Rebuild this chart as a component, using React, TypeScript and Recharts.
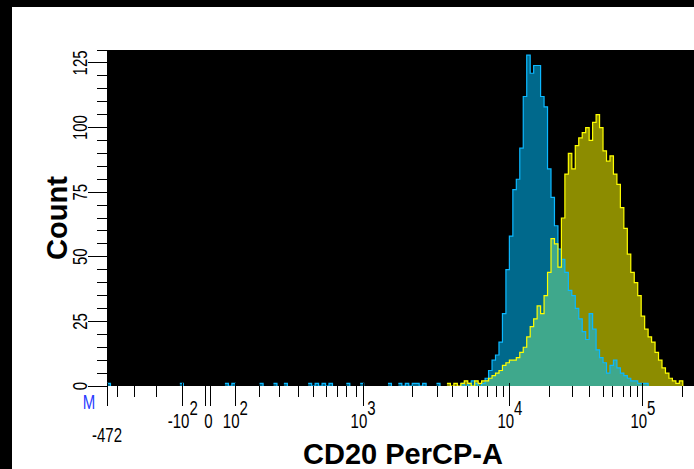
import React from "react";
import { ComposedChart, Area, Line, XAxis, YAxis, CartesianGrid, Label } from "recharts";

// histogram bins on the display-channel axis (0..1024)
const BIN_WIDTH = 6;
const MAIN_START = 588;
const CHANNEL_MAX = 1024;

const blueCounts = [
  0, 0, 0, 0, 1, 0, 1, 2, 1, 0,
  1, 3, 6, 10, 12, 17, 28, 45, 58, 76,
  80, 92, 112, 128, 121, 124, 124, 112, 108, 84,
  73, 62, 53, 49, 44, 37, 35, 30, 26, 21,
  18, 28, 22, 14, 11, 9, 5, 8, 10, 7,
  5, 4, 3, 2, 2, 1, 1, 1, 0, 0,
  0, 0, 0, 0, 0, 0, 0, 0, 0, 0,
];

const yellowCounts = [
  1, 0, 1, 0, 1, 2, 1, 0, 2, 1,
  2, 2, 3, 4, 5, 6, 8, 9, 10, 10,
  11, 13, 15, 19, 23, 26, 31, 28, 35, 44,
  57, 55, 46, 65, 82, 90, 84, 93, 96, 98,
  100, 95, 102, 105, 100, 91, 87, 89, 82, 78,
  69, 61, 51, 44, 40, 35, 27, 22, 19, 17,
  13, 10, 7, 5, 3, 2, 1, 2, 0, 0,
];

// single stray events of the blue sample below the main peak (channel)
const blueStrayEvents = [5, 130, 204, 218, 265, 292, 311, 348, 360, 372, 386, 415, 443, 489, 507, 521, 528, 536, 550, 573];

const yTickValues = [0, 5, 10, 15, 20, 25, 30, 35, 40, 45, 50, 55, 60, 65, 70, 75, 80, 85, 90, 95, 100, 105, 110, 115, 120, 125, 130];
const yLabelEvery = 25;

const xMajorTicks = [0, 131, 175.5, 222, 443, 697, 927];
const xMajorLabels = ["-472", "-10^2", "0", "10^2", "10^3", "10^4", "10^5"];
const xMinorTicks = [
  19, 47, 86,
  263, 299, 332, 358, 379, 398, 415, 431,
  528, 571, 598, 624, 643, 659, 673, 685,
  766, 806, 834, 858, 875, 893, 905, 917,
  995,
];

const rawBlue: number[] = [];
const rawYellow: number[] = [];
const channels: number[] = [];
for (let ch = 0; ch <= CHANNEL_MAX - 4; ch += BIN_WIDTH) {
  const i = (ch - MAIN_START) / BIN_WIDTH;
  let blue = i >= 0 && i < blueCounts.length ? blueCounts[i] : 0;
  const yellow = i >= 0 && i < yellowCounts.length ? yellowCounts[i] : 0;
  blue += blueStrayEvents.filter((e) => Math.floor(e / BIN_WIDTH) * BIN_WIDTH === ch).length;
  channels.push(ch);
  rawBlue.push(blue);
  rawYellow.push(yellow);
}

// empty stretches are left out so no outline runs along the baseline
const gap = (arr: number[], k: number) => (arr[k] > 0 || (k > 0 && arr[k - 1] > 0) ? arr[k] : null);
const rows = channels.map((ch, k) => ({ ch, blue: gap(rawBlue, k), yellow: gap(rawYellow, k) }));

const FONT = "'Liberation Sans', Arial, sans-serif";
const STRETCH = 1.4;
const TICK_FONT = 15;

function XTick(props: any) {
  const { x, y, payload } = props;
  const mi = xMajorTicks.indexOf(payload.value);
  if (mi < 0) {
    return <line x1={x} x2={x} y1={y} y2={y + 11} stroke="#000" shapeRendering="crispEdges" />;
  }
  const label = xMajorLabels[mi];
  const [base, exp] = label.split("^");
  const xs = label === "0" ? [x - 2.5, x + 2.5] : [x];
  const low = label === "-472";
  return (
    <g>
      {xs.map((lx) => (
        <line key={lx} x1={lx} x2={lx} y1={y - 3} y2={y + 20} stroke="#000" shapeRendering="crispEdges" />
      ))}
      <g transform={`translate(${x},${y}) scale(1,${STRETCH})`}>
        <text x={0} y={low ? 40 : 30} textAnchor="middle" fontSize={TICK_FONT} fontFamily={FONT} fill="#000">
          {base}
          {exp && <tspan dy={-9.3}>{exp}</tspan>}
        </text>
      </g>
      {low && (
        <g transform={`translate(${x - 18},${y}) scale(1,${STRETCH})`}>
          <text x={0} y={16.5} textAnchor="middle" fontSize={TICK_FONT} fontFamily={FONT} fill="#2a3cff">M</text>
        </g>
      )}
    </g>
  );
}

function YTick(props: any) {
  const { x, y, payload } = props;
  const v = payload.value;
  const major = v % yLabelEvery === 0;
  return (
    <g>
      <line x1={x - (major ? 19 : 10)} x2={x} y1={y} y2={y} stroke="#000" shapeRendering="crispEdges" />
      {major && (
        <g transform={`translate(${x - 20},${y}) rotate(-90) scale(1,${STRETCH})`}>
          <text x={0} y={0} textAnchor="middle" fontSize={TICK_FONT} fontFamily={FONT} fill="#000">{v}</text>
        </g>
      )}
    </g>
  );
}

export default function App() {
  return (
    <div style={{ position: "fixed", left: 0, top: 0, width: 694, height: 469, background: "#000", overflow: "hidden" }}>
      <div style={{ position: "absolute", left: 12, top: 7, right: 0, bottom: 0, background: "#fff" }} />
      <div style={{ position: "absolute", left: 0, top: 0 }}>
        <ComposedChart width={720} height={469} data={rows} margin={{ top: 50, right: 21, bottom: 0, left: 0 }}>
          <CartesianGrid fill="#000" fillOpacity={1} horizontal={false} vertical={false} />
          <XAxis
            type="number"
            dataKey="ch"
            domain={[0, CHANNEL_MAX]}
            ticks={[...xMajorTicks, ...xMinorTicks].sort((a, b) => a - b)}
            interval={0}
            height={83}
            tickSize={0}
            tickMargin={0}
            axisLine={false}
            tickLine={false}
            tick={<XTick />}
          >
            <Label
              content={(p: any) => {
                const vb = p.viewBox || { x: 107, y: 386, width: 592 };
                return (
                  <text x={vb.x + vb.width / 2} y={464} textAnchor="middle" fontSize={29} fontWeight="bold" fontFamily={FONT} fill="#000">
                    CD20 PerCP-A
                  </text>
                );
              }}
            />
          </XAxis>
          <YAxis
            type="number"
            domain={[0, 130]}
            ticks={yTickValues}
            interval={0}
            width={107}
            tickSize={0}
            tickMargin={0}
            axisLine={false}
            tickLine={false}
            allowDataOverflow
            tick={<YTick />}
          >
            <Label
              content={(p: any) => {
                const vb = p.viewBox || { x: 0, y: 50, height: 336 };
                const cy = vb.y + vb.height / 2;
                return (
                  <text
                    transform={`translate(67,${cy}) rotate(-90)`}
                    textAnchor="middle"
                    fontSize={29}
                    fontWeight="bold"
                    fontFamily={FONT}
                    fill="#000"
                  >
                    Count
                  </text>
                );
              }}
            />
          </YAxis>
          <Area type="stepAfter" dataKey="yellow" stroke="none" fill="#ffff00" fillOpacity={0.55} isAnimationActive={false} activeDot={false} />
          <Area type="stepAfter" dataKey="blue" stroke="#0cb8ff" strokeWidth={1.2} fill="#00bfff" fillOpacity={0.55} isAnimationActive={false} activeDot={false} />
          <Line type="stepAfter" dataKey="yellow" stroke="#ffff00" strokeWidth={1.2} dot={false} isAnimationActive={false} activeDot={false} />
        </ComposedChart>
      </div>
    </div>
  );
}
